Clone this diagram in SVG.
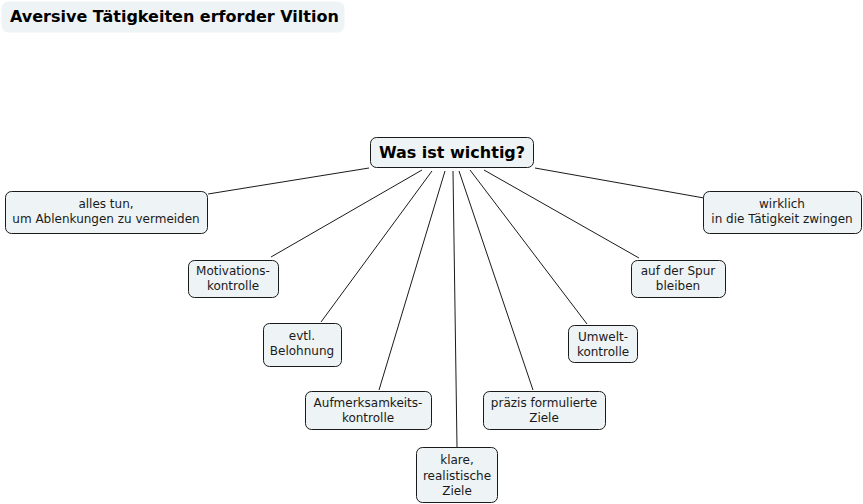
<svg xmlns="http://www.w3.org/2000/svg" width="863" height="504" viewBox="0 0 863 504">
<style>
.n rect{fill:#eef3f5;stroke:#1a1a1a;stroke-width:1}
.n text{font-family:"DejaVu Sans",Verdana,sans-serif;font-size:12px;fill:#1a1a1a;text-anchor:middle}
#connectors line{stroke:#1a1a1a;stroke-width:1}
</style>
<rect width="863" height="504" fill="#fff"/>
<g id="title">
<rect x="1.5" y="1.5" width="343" height="31" rx="7" fill="#eef3f5"/>
<text x="10" y="22" font-family="'DejaVu Sans',Verdana,sans-serif" font-size="16" font-weight="bold" fill="#000">Aversive Tätigkeiten erforder Viltion</text>
</g>
<g id="connectors">
<line x1="369" y1="168" x2="208" y2="194"/>
<line x1="422" y1="170" x2="271" y2="257"/>
<line x1="432" y1="171" x2="321" y2="322"/>
<line x1="445" y1="171" x2="379" y2="390"/>
<line x1="453" y1="171" x2="457" y2="447"/>
<line x1="459" y1="171" x2="533" y2="390"/>
<line x1="470" y1="170" x2="587" y2="324"/>
<line x1="484" y1="170" x2="639" y2="258"/>
<line x1="535" y1="168" x2="704" y2="198"/>
</g>
<g id="center" class="n">
<rect x="370.5" y="137.5" width="163" height="30" rx="6"/>
<text x="452" y="158" style="font-weight:bold;font-size:16px;fill:#000">Was ist wichtig?</text>
</g>
<g id="n1" class="n">
<rect x="5.5" y="191.5" width="202" height="42" rx="6"/>
<text x="106" y="208">alles tun,</text>
<text x="106" y="223">um Ablenkungen zu vermeiden</text>
</g>
<g id="n2" class="n">
<rect x="188.5" y="260.5" width="90" height="37" rx="6"/>
<text x="233" y="275">Motivations-</text>
<text x="233" y="290">kontrolle</text>
</g>
<g id="n3" class="n">
<rect x="263.5" y="323.5" width="78" height="43" rx="6"/>
<text x="302" y="340">evtl.</text>
<text x="302" y="355">Belohnung</text>
</g>
<g id="n4" class="n">
<rect x="305.5" y="391.5" width="126" height="38" rx="6"/>
<text x="368" y="407">Aufmerksamkeits-</text>
<text x="368" y="422">kontrolle</text>
</g>
<g id="n5" class="n">
<rect x="416.5" y="447.5" width="81" height="55" rx="6"/>
<text x="457" y="464">klare,</text>
<text x="457" y="480">realistische</text>
<text x="457" y="495">Ziele</text>
</g>
<g id="n6" class="n">
<rect x="483.5" y="391.5" width="122" height="38" rx="6"/>
<text x="544" y="407">präzis formulierte</text>
<text x="544" y="422">Ziele</text>
</g>
<g id="n7" class="n">
<rect x="568.5" y="325.5" width="69" height="37" rx="6"/>
<text x="603" y="341">Umwelt-</text>
<text x="603" y="356">kontrolle</text>
</g>
<g id="n8" class="n">
<rect x="631.5" y="260.5" width="94" height="37" rx="6"/>
<text x="678" y="275">auf der Spur</text>
<text x="678" y="290">bleiben</text>
</g>
<g id="n9" class="n">
<rect x="703.5" y="191.5" width="158" height="42" rx="6"/>
<text x="782" y="208">wirklich</text>
<text x="782" y="223">in die Tätigkeit zwingen</text>
</g>
</svg>
